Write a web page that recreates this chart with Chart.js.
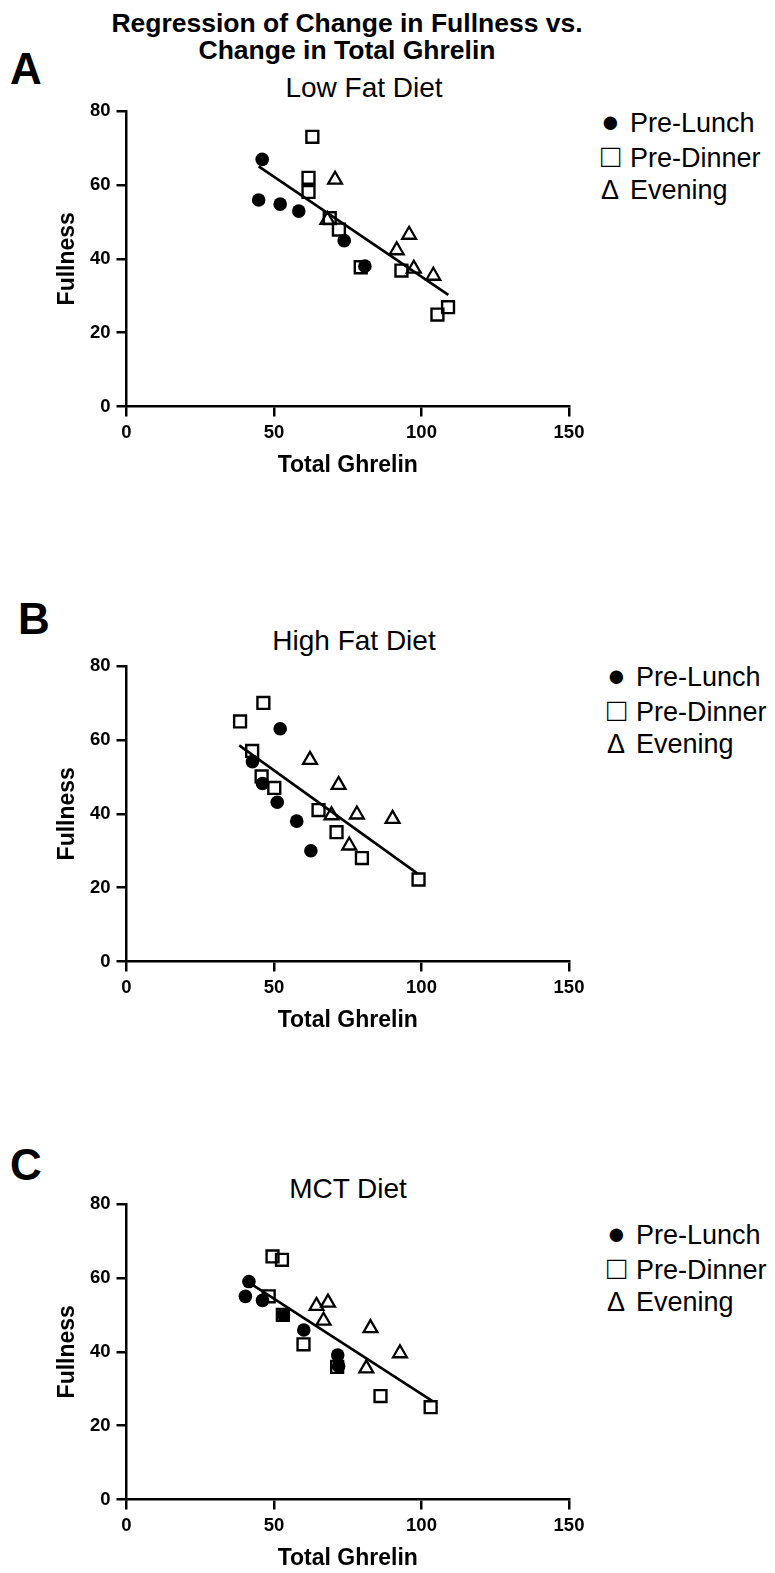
<!DOCTYPE html>
<html>
<head>
<meta charset="utf-8">
<title>Regression of Change in Fullness vs. Change in Total Ghrelin</title>
<script src="https://cdn.jsdelivr.net/npm/chart.js@4.4.1/dist/chart.umd.min.js"></script>
<style>
  body { margin: 0; background: #fff; }
  #pagina { position: relative; width: 775px; height: 1573px; overflow: hidden; font-family: 'Liberation Sans', Arial, sans-serif; color: #000; }
  .texto { position: absolute; white-space: nowrap; }
  .titulo { font-weight: bold; font-size: 26.5px; line-height: 30px; text-align: center; left: 0; width: 694px; }
  .letra { font-weight: bold; font-size: 44px; line-height: 50px; text-align: center; width: 60px; }
  .dieta { font-size: 28px; line-height: 32px; text-align: center; width: 300px; }
  .legenda { font-size: 27px; line-height: 34px; }
  .linha { height: 34px; line-height: 34px; }
  .sim { display: inline-block; width: 29px; line-height: 34px; }
  .bola { font-size: 31px; }
  .quadrado { font-size: 32px; }
  canvas { position: absolute; left: 0; }
</style>
</head>
<body>
<div id="pagina">
  <div class="texto titulo" style="top:8px">Regression of Change in Fullness vs.</div>
  <div class="texto titulo" style="top:35px">Change in Total Ghrelin</div>

  <div class="texto letra" style="left:-4px; top:44px">A</div>
  <div class="texto dieta" style="left:214px; top:72px">Low Fat Diet</div>
  <div class="texto legenda" style="left:601px; top:105px"><div class="linha"><span class="sim bola">●</span>Pre-Lunch</div><div class="linha"><span class="sim quadrado">□</span>Pre-Dinner</div><div class="linha"><span class="sim">Δ</span>Evening</div></div>

  <div class="texto letra" style="left:4px; top:594px">B</div>
  <div class="texto dieta" style="left:204px; top:625px">High Fat Diet</div>
  <div class="texto legenda" style="left:607px; top:659px"><div class="linha"><span class="sim bola">●</span>Pre-Lunch</div><div class="linha"><span class="sim quadrado">□</span>Pre-Dinner</div><div class="linha"><span class="sim">Δ</span>Evening</div></div>

  <div class="texto letra" style="left:-4px; top:1140px">C</div>
  <div class="texto dieta" style="left:198px; top:1173px">MCT Diet</div>
  <div class="texto legenda" style="left:607px; top:1217px"><div class="linha"><span class="sim bola">●</span>Pre-Lunch</div><div class="linha"><span class="sim quadrado">□</span>Pre-Dinner</div><div class="linha"><span class="sim">Δ</span>Evening</div></div>

  <canvas id="graficoLowFat" width="775" height="440" style="top:80px"></canvas>
  <canvas id="graficoHighFat" width="775" height="440" style="top:635px"></canvas>
  <canvas id="graficoMct" width="775" height="440" style="top:1173px"></canvas>
</div>

<script>
// eixos
const ghrelinTicks = [0, 50, 100, 150];
const fullnessTicks = [0, 20, 40, 60, 80];

// Low Fat Diet
const lowFatLunchX = [46.0, 44.8, 52.1, 58.4, 73.8, 80.8];
const lowFatLunchY = [66.9, 55.9, 54.8, 52.9, 44.9, 38.0];
const lowFatDinnerX = [63.0, 61.7, 61.7, 68.9, 72.0, 79.4, 93.2, 105.4, 109.0];
const lowFatDinnerY = [73.0, 61.9, 58.1, 51.0, 47.9, 37.7, 36.8, 24.9, 26.9];
const lowFatEveningX = [70.7, 68.1, 95.8, 91.6, 97.4, 104.0];
const lowFatEveningY = [61.4, 50.5, 46.5, 42.3, 37.3, 35.4];
const lowFatFitX = [44.8, 109.1];
const lowFatFitY = [65.0, 30.2];

// High Fat Diet
const highFatLunchX = [52.1, 42.7, 46.1, 51.1, 57.7, 62.5];
const highFatLunchY = [63.0, 54.1, 48.2, 43.1, 38.0, 30.0];
const highFatDinnerX = [38.5, 46.4, 42.6, 45.8, 50.1, 65.1, 71.2, 79.8, 99.0];
const highFatDinnerY = [65.0, 70.0, 57.0, 50.1, 47.0, 41.0, 35.0, 28.0, 22.2];
const highFatEveningX = [62.2, 71.9, 69.5, 78.1, 90.2, 75.5];
const highFatEveningY = [54.6, 47.8, 39.6, 39.8, 38.6, 31.4];
const highFatFitX = [38.2, 98.7];
const highFatFitY = [58.5, 23.8];

// MCT Diet
const mctLunchX = [41.5, 40.3, 46.1, 53.2, 60.1, 71.6, 71.9];
const mctLunchY = [59.0, 55.0, 53.9, 50.0, 45.9, 39.1, 36.1];
const mctDinnerX = [49.5, 52.7, 48.2, 53.0, 60.0, 71.4, 86.1, 103.1];
const mctDinnerY = [65.8, 64.9, 55.0, 50.0, 42.0, 35.9, 28.0, 25.0];
const mctEveningX = [64.4, 68.3, 66.8, 82.7, 81.3, 92.7];
const mctEveningY = [52.4, 53.3, 48.4, 46.4, 35.5, 39.6];
const mctFitX = [41.8, 103.6];
const mctFitY = [58.6, 26.7];

const fonte = "'Liberation Sans', Arial, sans-serif";

function pontos(xs, ys) {
    return xs.map((x, i) => ({ x: x, y: ys[i] }));
}

function eixo(ticks, titulo, vertical) {
    return {
        type: 'linear',
        position: vertical ? 'left' : 'bottom',
        min: ticks[0],
        max: ticks[ticks.length - 1],
        afterBuildTicks: (scale) => {
            scale.ticks = ticks.map(v => ({ value: v }));
        },
        afterFit: (scale) => {
            if (vertical) {
                scale.width = 72.8;
            } else {
                scale.height = 72.8;
            }
        },
        ticks: {
            color: '#000',
            padding: vertical ? 6 : 5,
            font: { family: fonte, size: 18.5, weight: 'bold' }
        },
        grid: {
            drawOnChartArea: false,
            drawTicks: true,
            tickLength: 10,
            tickWidth: 2.5,
            tickColor: '#000',
            color: '#000',
            lineWidth: 2.5
        },
        border: { display: true, color: '#000', width: 2.5 },
        title: {
            display: true,
            text: titulo,
            color: '#000',
            padding: 0,
            font: { family: fonte, size: 23, weight: 'bold', lineHeight: 1.2 }
        }
    };
}

function criarGrafico(id, lunchX, lunchY, dinnerX, dinnerY, eveningX, eveningY, fitX, fitY) {
    const ctx = document.getElementById(id);

    new Chart(ctx, {
        type: 'scatter',
        data: {
            datasets: [
                {
                    label: 'Pre-Lunch',
                    data: pontos(lunchX, lunchY),
                    pointStyle: 'circle',
                    pointRadius: 6.8,
                    backgroundColor: '#000',
                    borderColor: '#000',
                    borderWidth: 0
                },
                {
                    label: 'Pre-Dinner',
                    data: pontos(dinnerX, dinnerY),
                    pointStyle: 'rect',
                    pointRadius: 8.4,
                    backgroundColor: 'rgba(0,0,0,0)',
                    borderColor: '#000',
                    borderWidth: 2.4
                },
                {
                    label: 'Evening',
                    data: pontos(eveningX, eveningY),
                    pointStyle: 'triangle',
                    pointRadius: 8,
                    backgroundColor: 'rgba(0,0,0,0)',
                    borderColor: '#000',
                    borderWidth: 2.3
                },
                {
                    label: 'Regression',
                    data: pontos(fitX, fitY),
                    showLine: true,
                    pointRadius: 0,
                    borderColor: '#000',
                    borderWidth: 2.6,
                    fill: false
                }
            ]
        },
        options: {
            responsive: false,
            animation: false,
            events: [],
            layout: {
                padding: { left: 53.7, right: 206, top: 31, bottom: 40.7 }
            },
            plugins: {
                legend: { display: false },
                tooltip: { enabled: false }
            },
            scales: {
                x: eixo(ghrelinTicks, 'Total Ghrelin', false),
                y: eixo(fullnessTicks, 'Fullness', true)
            }
        }
    });
}

document.addEventListener('DOMContentLoaded', () => {
    criarGrafico('graficoLowFat', lowFatLunchX, lowFatLunchY, lowFatDinnerX, lowFatDinnerY,
        lowFatEveningX, lowFatEveningY, lowFatFitX, lowFatFitY);
    criarGrafico('graficoHighFat', highFatLunchX, highFatLunchY, highFatDinnerX, highFatDinnerY,
        highFatEveningX, highFatEveningY, highFatFitX, highFatFitY);
    criarGrafico('graficoMct', mctLunchX, mctLunchY, mctDinnerX, mctDinnerY,
        mctEveningX, mctEveningY, mctFitX, mctFitY);
});
</script>
</body>
</html>
